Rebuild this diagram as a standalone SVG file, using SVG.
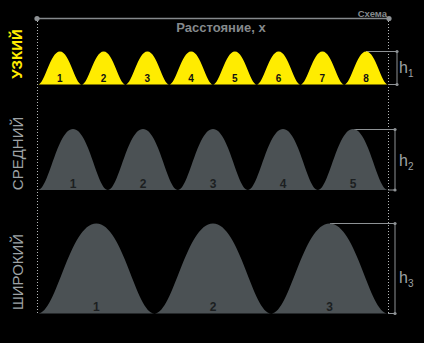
<svg xmlns="http://www.w3.org/2000/svg" width="424" height="343" viewBox="0 0 424 343">
<defs>
<style>
.axis{stroke:#85898c;stroke-width:1.6;fill:none}
.dot{fill:#8e9295}
.dotted{stroke:#b5b8ba;stroke-width:1;stroke-dasharray:1 2;fill:none}
.br{stroke:#8e9295;stroke-width:1;fill:none}
.bd{fill:#8e9295}
.y{fill:#ffec00}
.g{fill:#4b5154}
.ny{font-family:"Liberation Sans",Arial,sans-serif;font-weight:bold;font-size:10px;fill:#111;text-anchor:middle}
.ng{font-family:"Liberation Sans",Arial,sans-serif;font-weight:bold;font-size:12px;fill:#1c1f21;text-anchor:middle}
.lab{font-family:"Liberation Sans",Arial,sans-serif;font-size:15px;fill:#9ea3a6;text-anchor:middle}
.h{font-family:"Liberation Sans",Arial,sans-serif;font-size:16px;fill:#9ea3a6}
.hs{font-size:10px}
.ax{font-family:"Liberation Sans",Arial,sans-serif;font-weight:bold;fill:#85898c}
</style>
</defs>
<rect width="424" height="343" fill="#000"/>

<g id="connectors">
<line class="axis" x1="37" y1="18.5" x2="389" y2="18.5"/>
<circle class="dot" cx="37" cy="18.5" r="2.6"/>
<circle class="dot" cx="389" cy="18.5" r="2.6"/>
<line class="dotted" x1="37.5" y1="21" x2="37.5" y2="314"/>
<line class="dotted" x1="388.5" y1="21" x2="388.5" y2="314"/>
<polyline class="br" points="366,51.5 397,51.5 397,84.5 388,84.5"/>
<circle class="bd" cx="397" cy="51.5" r="1.6"/>
<circle class="bd" cx="397" cy="84.5" r="1.6"/>
<polyline class="br" points="354,129.5 395,129.5 395,190 388,190"/>
<circle class="bd" cx="395" cy="129.5" r="1.6"/>
<circle class="bd" cx="395" cy="190" r="1.6"/>
<polyline class="br" points="330,223.5 395,223.5 395,313.5 388,313.5"/>
<circle class="bd" cx="395" cy="223.5" r="1.6"/>
<circle class="bd" cx="395" cy="313.5" r="1.6"/>
</g>

<g id="title">
<text class="ax" x="221" y="32" font-size="13" text-anchor="middle">Расстояние, x</text>
<text class="ax" x="387" y="16.5" font-size="9.5" text-anchor="end">Схема</text>
</g>

<g id="row-narrow">
<text x="22" y="54" transform="rotate(-90 22 54)" font-family="Liberation Sans,Arial,sans-serif" font-weight="bold" font-size="15" fill="#ffec00" text-anchor="middle">УЗКИЙ</text>
<g class="y">
<path d="M38,84.5 c7,0 12,-33 21.9,-33 c9.9,0 14.9,33 21.9,33 Z"/>
<path d="M81.75,84.5 c7,0 12,-33 21.9,-33 c9.9,0 14.9,33 21.9,33 Z"/>
<path d="M125.5,84.5 c7,0 12,-33 21.9,-33 c9.9,0 14.9,33 21.9,33 Z"/>
<path d="M169.25,84.5 c7,0 12,-33 21.9,-33 c9.9,0 14.9,33 21.9,33 Z"/>
<path d="M213,84.5 c7,0 12,-33 21.9,-33 c9.9,0 14.9,33 21.9,33 Z"/>
<path d="M256.75,84.5 c7,0 12,-33 21.9,-33 c9.9,0 14.9,33 21.9,33 Z"/>
<path d="M300.5,84.5 c7,0 12,-33 21.9,-33 c9.9,0 14.9,33 21.9,33 Z"/>
<path d="M344.25,84.5 c7,0 12,-33 21.9,-33 c9.9,0 14.9,33 21.9,33 Z"/>
</g>
<text class="ny" x="59.9" y="82">1</text>
<text class="ny" x="103.6" y="82">2</text>
<text class="ny" x="147.4" y="82">3</text>
<text class="ny" x="191.1" y="82">4</text>
<text class="ny" x="234.9" y="82">5</text>
<text class="ny" x="278.6" y="82">6</text>
<text class="ny" x="322.4" y="82">7</text>
<text class="ny" x="366.1" y="82">8</text>
<text class="h" x="399" y="73">h<tspan class="hs" dy="4">1</tspan></text>
</g>

<g id="row-medium">
<text class="lab" x="23" y="153.5" transform="rotate(-90 23 153.5)">СРЕДНИЙ</text>
<g class="g">
<path d="M38,190 c11,0 19,-61 35,-61 c16,0 24,61 35,61 Z"/>
<path d="M108,190 c11,0 19,-61 35,-61 c16,0 24,61 35,61 Z"/>
<path d="M178,190 c11,0 19,-61 35,-61 c16,0 24,61 35,61 Z"/>
<path d="M248,190 c11,0 19,-61 35,-61 c16,0 24,61 35,61 Z"/>
<path d="M318,190 c11,0 19,-61 35,-61 c16,0 24,61 35,61 Z"/>
</g>
<text class="ng" x="73" y="188">1</text>
<text class="ng" x="143" y="188">2</text>
<text class="ng" x="213" y="188">3</text>
<text class="ng" x="283" y="188">4</text>
<text class="ng" x="353" y="188">5</text>
<text class="h" x="399" y="166">h<tspan class="hs" dy="4">2</tspan></text>
</g>

<g id="row-wide">
<text class="lab" x="23" y="272" transform="rotate(-90 23 272)">ШИРОКИЙ</text>
<g class="g">
<path d="M38,313.5 c18.5,0 31.5,-90 58.3,-90 c26.8,0 39.8,90 58.3,90 Z"/>
<path d="M154.67,313.5 c18.5,0 31.5,-90 58.3,-90 c26.8,0 39.8,90 58.3,90 Z"/>
<path d="M271.33,313.5 c18.5,0 31.5,-90 58.3,-90 c26.8,0 39.8,90 58.3,90 Z"/>
</g>
<text class="ng" x="96.3" y="311">1</text>
<text class="ng" x="213" y="311">2</text>
<text class="ng" x="329.7" y="311">3</text>
<text class="h" x="399" y="283">h<tspan class="hs" dy="4">3</tspan></text>
</g>
</svg>
